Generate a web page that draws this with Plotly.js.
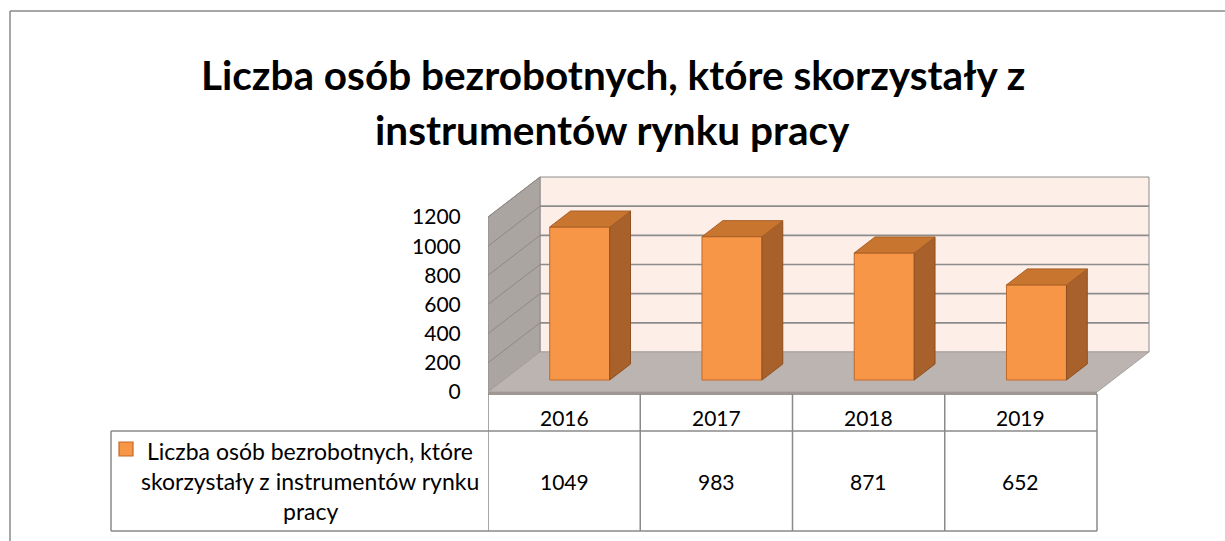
<!DOCTYPE html>
<html>
<head>
<meta charset="utf-8">
<script src="https://cdn.plot.ly/plotly-3.0.1.min.js"></script>
<style>
  html, body { margin: 0; padding: 0; background: #fff; }
  #chart { width: 1225px; height: 541px; }
</style>
</head>
<body>
<div id="chart"></div>
<script>
// dane
const years = ['2016', '2017', '2018', '2019'];
const values = [1049, 983, 871, 652];
const seriesLines = ['Liczba osób bezrobotnych, które', 'skorzystały z instrumentów rynku', 'pracy'];
const yTicks = [0, 200, 400, 600, 800, 1000, 1200];
const titleLines = ['Liczba osób bezrobotnych, które skorzystały z', 'instrumentów rynku pracy'];

// geometria (piksele)
const W = 1225, H = 541;
const plotL = 488, plotR = 1160, plotT = 170, plotB = 400;
const catPx = 152.25;             // szerokość kategorii
const zeroPx = 392;               // poziom 0 na przedniej krawędzi
const pxPerUnit = 175 / 1200;
const depthPx = [52, 40];         // przesunięcie ściany tylnej

const xRange = [-0.5, -0.5 + (plotR - plotL) / catPx];
const yRange = [-(plotB - zeroPx) / pxPerUnit, (zeroPx - plotT) / pxPerUnit];
const D = depthPx[0] / catPx;         // głębokość w jednostkach x
const Dy = depthPx[1] / pxPerUnit;    // głębokość w jednostkach y
const yMax = yTicks[yTicks.length - 1];

// pozycja słupka w głębi
const f0 = 0.3, f1 = 0.7;
const barW = 60 / catPx;

const px = x => (x - plotL) / (plotR - plotL);
const py = y => (plotB - y) / (plotB - plotT);

const xs = years.map((_, i) => i);
const barX = xs.map(i => i + f0 * D);
const base = f0 * Dy;
const bd = (f1 - f0) * D, bdy = (f1 - f0) * Dy;

// przednia ściana słupków
const front = {
  type: 'bar',
  x: barX,
  y: values,
  base: values.map(() => base),
  width: barW,
  marker: { color: '#F79646', line: { color: '#C0692A', width: 1 } },
  hoverinfo: 'skip',
  showlegend: false
};

// górne i boczne ściany
const topX = [], topY = [], sideX = [], sideY = [];
values.forEach((v, i) => {
  const xl = barX[i] - barW / 2, xr = barX[i] + barW / 2, t = base + v;
  topX.push(xl, xr, xr + bd, xl + bd, xl, null);
  topY.push(t, t, t + bdy, t + bdy, t, null);
  sideX.push(xr, xr + bd, xr + bd, xr, xr, null);
  sideY.push(base, base + bdy, t + bdy, t, base, null);
});
const tops = {
  type: 'scatter', mode: 'lines', x: topX, y: topY, fill: 'toself',
  fillcolor: '#C87530', line: { color: '#A85F25', width: 1 },
  hoverinfo: 'skip', showlegend: false
};
const sides = {
  type: 'scatter', mode: 'lines', x: sideX, y: sideY, fill: 'toself',
  fillcolor: '#A8612A', line: { color: '#8E5020', width: 1 },
  hoverinfo: 'skip', showlegend: false
};

const gridCol = '#8c8c8c';
const shapes = [];
// tylna ściana
shapes.push({
  type: 'rect', xref: 'x', yref: 'y', layer: 'below',
  x0: -0.5 + D, x1: 3.5 + D, y0: Dy, y1: yMax + Dy,
  fillcolor: '#FDEEE7', line: { color: gridCol, width: 1 }
});
// lewa ściana
shapes.push({
  type: 'path', xref: 'x', yref: 'y', layer: 'below',
  path: `M ${-0.5},0 L ${-0.5 + D},${Dy} L ${-0.5 + D},${yMax + Dy} L ${-0.5},${yMax} Z`,
  fillcolor: '#ABA5A2', line: { color: gridCol, width: 1 }
});
// podłoga
shapes.push({
  type: 'path', xref: 'x', yref: 'y', layer: 'below',
  path: `M ${-0.5},0 L 3.5,0 L ${3.5 + D},${Dy} L ${-0.5 + D},${Dy} Z`,
  fillcolor: '#BCB4B0', line: { color: '#A8A09C', width: 1 }
});
// grubość podłogi
shapes.push({
  type: 'path', xref: 'x', yref: 'y', layer: 'below',
  path: `M ${-0.5},0 L 3.5,0 L 3.5,${-3 / pxPerUnit} L ${-0.5},${-3 / pxPerUnit} Z`,
  fillcolor: '#9E9793', line: { width: 0 }
});
// linie siatki
yTicks.forEach(v => {
  if (v === 0) return;
  if (v !== yMax) {
    shapes.push({
      type: 'line', xref: 'x', yref: 'y', layer: 'below',
      x0: -0.5 + D, x1: 3.5 + D, y0: v + Dy, y1: v + Dy,
      line: { color: gridCol, width: 1.6 }
    });
  }
  shapes.push({
    type: 'line', xref: 'x', yref: 'y', layer: 'below',
    x0: -0.5, x1: -0.5 + D, y0: v, y1: v + Dy,
    line: { color: '#8f8985', width: 1 }
  });
});

// tabela danych
const tabTop = 394, tabMid = 431, tabBot = 531, legL = 111;
const tabCol = '#8a8a8a';
for (let k = 0; k <= years.length; k++) {
  shapes.push({
    type: 'line', xref: 'x', yref: 'paper',
    x0: k - 0.5, x1: k - 0.5, y0: py(tabTop), y1: py(tabBot),
    line: { color: tabCol, width: 1.5 }
  });
}
shapes.push({ type: 'line', xref: 'paper', yref: 'paper', x0: px(legL), x1: px(legL), y0: py(tabMid), y1: py(tabBot), line: { color: tabCol, width: 1.5 } });
shapes.push({ type: 'line', xref: 'paper', yref: 'paper', x0: px(legL), x1: px(plotL + catPx * 4), y0: py(tabMid), y1: py(tabMid), line: { color: tabCol, width: 1.5 } });
shapes.push({ type: 'line', xref: 'paper', yref: 'paper', x0: px(legL), x1: px(plotL + catPx * 4), y0: py(tabBot), y1: py(tabBot), line: { color: tabCol, width: 1.5 } });
// znacznik legendy
shapes.push({
  type: 'rect', xref: 'paper', yref: 'paper',
  x0: px(119), x1: px(133), y0: py(442), y1: py(456),
  fillcolor: '#F79646', line: { color: '#C0692A', width: 1.2 }
});
// ramka wykresu
shapes.push({ type: 'line', xref: 'paper', yref: 'paper', x0: px(10), x1: px(10), y0: py(11), y1: py(H + 5), line: { color: '#8a8a8a', width: 1.5 } });
shapes.push({ type: 'line', xref: 'paper', yref: 'paper', x0: px(10), x1: px(W + 5), y0: py(11), y1: py(11), line: { color: '#8a8a8a', width: 1.5 } });

const numFont = { family: 'Lato, sans-serif', size: 21, color: '#000' };
const txtFont = { family: 'Lato, sans-serif', size: 23, color: '#000' };
const annotations = [];
years.forEach((yr, i) => {
  annotations.push({ xref: 'x', yref: 'paper', x: xs[i], y: py(417), text: yr, showarrow: false, font: numFont, xanchor: 'center', yanchor: 'middle' });
  annotations.push({ xref: 'x', yref: 'paper', x: xs[i], y: py(481), text: String(values[i]), showarrow: false, font: numFont, xanchor: 'center', yanchor: 'middle' });
});
seriesLines.forEach((ln, j) => {
  annotations.push({ xref: 'paper', yref: 'paper', x: px(310), y: py(451 + j * 30), text: ln, showarrow: false, font: txtFont, xanchor: 'center', yanchor: 'middle' });
});
// tytuł (dwie linie)
titleLines.forEach((ln, j) => {
  annotations.push({
    xref: 'paper', yref: 'paper', x: px(W / 2), y: py(75 + j * 55),
    text: '<b>' + ln + '</b>', showarrow: false, xanchor: 'center', yanchor: 'middle',
    font: { family: 'Lato, sans-serif', size: 40.5, color: '#000' }
  });
});

const layout = {
  width: W, height: H,
  margin: { l: plotL, r: W - plotR, t: plotT, b: H - plotB },
  paper_bgcolor: '#fff', plot_bgcolor: 'rgba(0,0,0,0)',
  xaxis: { range: xRange, showgrid: false, zeroline: false, showline: false, showticklabels: false, ticks: '', fixedrange: true },
  yaxis: {
    range: yRange, showgrid: false, zeroline: false, showline: false,
    tickvals: yTicks, ticktext: yTicks.map(String),
    ticks: 'outside', ticklen: 22, tickcolor: 'rgba(0,0,0,0)',
    tickfont: numFont, fixedrange: true
  },
  shapes: shapes,
  annotations: annotations,
  showlegend: false,
  bargap: 0
};

Plotly.newPlot('chart', [front, sides, tops], layout, { staticPlot: true, displayModeBar: false });
</script>
</body>
</html>
